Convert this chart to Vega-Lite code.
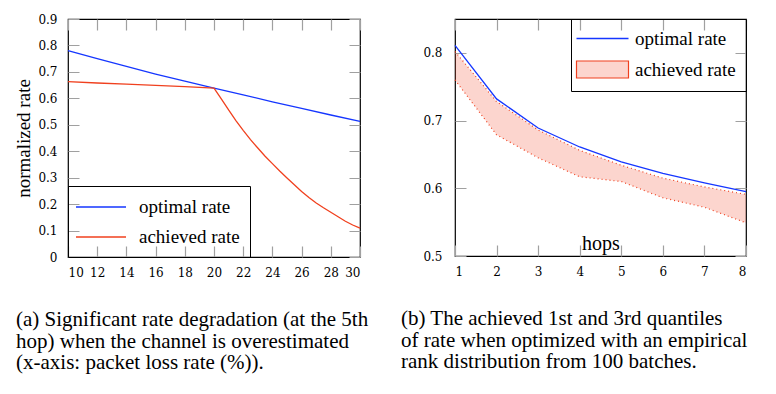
{
  "$schema": "https://vega.github.io/schema/vega-lite/v6.json",
  "background": "white",
  "padding": {"left": 14, "top": 12, "right": 5, "bottom": 5},
  "spacing": 95,
  "bounds": "flush",
  "resolve": {"scale": {"color": "independent"}, "legend": {"color": "independent"}},
  "config": {
    "view": {"stroke": "black", "strokeWidth": 1.2},
    "axis": {
      "domain": false, "ticks": false,
      "labelFont": "'DejaVu Serif', serif", "labelFontSize": 12, "labelColor": "black",
      "gridColor": "#a0a0a0", "gridWidth": 1.2, "gridOpacity": 1,
      "titleFont": "'Liberation Serif', 'Times New Roman', serif", "titleFontWeight": "normal", "titleColor": "black", "titleFontSize": 19
    },
    "legend": {
      "labelFont": "'Liberation Serif', 'Times New Roman', serif", "labelFontSize": 19, "labelColor": "black",
      "strokeColor": "black", "padding": 10, "offset": 0, "title": null,
      "symbolSize": 400, "symbolOffset": 12, "symbolStrokeWidth": 1.3, "labelOffset": 23, "rowPadding": 9, "symbolOpacity": 1
    },
    "title": {
      "font": "'Liberation Serif', 'Times New Roman', serif", "fontSize": 21, "fontWeight": "normal", "color": "black",
      "lineHeight": 21.7, "orient": "bottom", "anchor": "start", "frame": "group"
    }
  },
  "hconcat": [
    {
      "width": 292, "height": 238,
      "title": {
        "text": ["(a) Significant rate degradation (at the 5th", "hop) when the channel is overestimated", "(x-axis: packet loss rate (%))."],
        "dx": -52, "offset": 31
      },
      "data": {"values": [
        {"series": "optimal rate", "loss": 10, "rate": 0.780},
        {"series": "optimal rate", "loss": 12, "rate": 0.750},
        {"series": "optimal rate", "loss": 14, "rate": 0.721},
        {"series": "optimal rate", "loss": 16, "rate": 0.692},
        {"series": "optimal rate", "loss": 18, "rate": 0.665},
        {"series": "optimal rate", "loss": 20, "rate": 0.639},
        {"series": "optimal rate", "loss": 22, "rate": 0.613},
        {"series": "optimal rate", "loss": 24, "rate": 0.587},
        {"series": "optimal rate", "loss": 26, "rate": 0.562},
        {"series": "optimal rate", "loss": 28, "rate": 0.537},
        {"series": "optimal rate", "loss": 30, "rate": 0.513},
        {"series": "achieved rate", "loss": 10, "rate": 0.663},
        {"series": "achieved rate", "loss": 12, "rate": 0.658},
        {"series": "achieved rate", "loss": 14, "rate": 0.654},
        {"series": "achieved rate", "loss": 16, "rate": 0.649},
        {"series": "achieved rate", "loss": 18, "rate": 0.644},
        {"series": "achieved rate", "loss": 20, "rate": 0.639},
        {"series": "achieved rate", "loss": 20.5, "rate": 0.598},
        {"series": "achieved rate", "loss": 21, "rate": 0.556},
        {"series": "achieved rate", "loss": 21.5, "rate": 0.516},
        {"series": "achieved rate", "loss": 22, "rate": 0.479},
        {"series": "achieved rate", "loss": 22.5, "rate": 0.444},
        {"series": "achieved rate", "loss": 23, "rate": 0.412},
        {"series": "achieved rate", "loss": 23.5, "rate": 0.381},
        {"series": "achieved rate", "loss": 24, "rate": 0.353},
        {"series": "achieved rate", "loss": 24.5, "rate": 0.325},
        {"series": "achieved rate", "loss": 25, "rate": 0.299},
        {"series": "achieved rate", "loss": 25.5, "rate": 0.273},
        {"series": "achieved rate", "loss": 26, "rate": 0.248},
        {"series": "achieved rate", "loss": 26.5, "rate": 0.225},
        {"series": "achieved rate", "loss": 27, "rate": 0.204},
        {"series": "achieved rate", "loss": 27.5, "rate": 0.186},
        {"series": "achieved rate", "loss": 28, "rate": 0.169},
        {"series": "achieved rate", "loss": 28.5, "rate": 0.152},
        {"series": "achieved rate", "loss": 29, "rate": 0.135},
        {"series": "achieved rate", "loss": 29.5, "rate": 0.121},
        {"series": "achieved rate", "loss": 30, "rate": 0.109}
      ]},
      "mark": {"type": "line", "strokeWidth": 1.3},
      "encoding": {
        "x": {"field": "loss", "type": "quantitative",
          "scale": {"domain": [10, 30], "nice": false, "zero": false},
          "axis": {"values": [10, 12, 14, 16, 18, 20, 22, 24, 26, 28, 30], "title": null, "grid": true, "gridDash": [11, 216, 11], "labelPadding": 10}},
        "y": {"field": "rate", "type": "quantitative",
          "scale": {"domain": [0, 0.9], "nice": false},
          "axis": {"values": [0, 0.1, 0.2, 0.3, 0.4, 0.5, 0.6, 0.7, 0.8, 0.9], "format": "~g", "title": "normalized rate", "titlePadding": 4, "grid": true, "gridDash": [11, 270, 11], "labelPadding": 11}},
        "color": {"field": "series", "type": "nominal",
          "scale": {"domain": ["optimal rate", "achieved rate"], "range": ["#1536ff", "#f0401e"]},
          "legend": {"orient": "bottom-left", "symbolType": "M-2.5,0H2.5", "labelOffset": 27}}
      }
    },
    {
      "width": 291, "height": 237,
      "title": {
        "text": ["(b) The achieved 1st and 3rd quantiles", "of rate when optimized with an empirical", "rank distribution from 100 batches."],
        "dx": -54, "offset": 31
      },
      "data": {"values": [
        {"hops": 1, "optimal": 0.811, "q3": 0.802, "q1": 0.760},
        {"hops": 2, "optimal": 0.732, "q3": 0.728, "q1": 0.679},
        {"hops": 3, "optimal": 0.689, "q3": 0.686, "q1": 0.645},
        {"hops": 4, "optimal": 0.661, "q3": 0.656, "q1": 0.617},
        {"hops": 5, "optimal": 0.639, "q3": 0.634, "q1": 0.610},
        {"hops": 6, "optimal": 0.622, "q3": 0.615, "q1": 0.586},
        {"hops": 7, "optimal": 0.608, "q3": 0.602, "q1": 0.572},
        {"hops": 8, "optimal": 0.595, "q3": 0.591, "q1": 0.549}
      ]},
      "encoding": {
        "x": {"field": "hops", "type": "quantitative",
          "scale": {"domain": [1, 8], "nice": false, "zero": false},
          "axis": {"values": [1, 2, 3, 4, 5, 6, 7, 8], "title": "hops", "titleFontSize": 20, "titleY": -7, "titleBaseline": "alphabetic", "grid": true, "gridDash": [11, 215, 11], "labelPadding": 10}}
      },
      "layer": [
        {
          "mark": {"type": "area", "opacity": 1, "fillOpacity": 0.22},
          "encoding": {
            "y": {"field": "q1", "type": "quantitative",
              "scale": {"domain": [0.5, 0.85], "nice": false, "zero": false},
              "axis": {"values": [0.5, 0.6, 0.7, 0.8], "format": "~g", "title": null, "grid": true, "gridDash": [11, 269, 11], "labelPadding": 13}},
            "y2": {"field": "q3"},
            "color": {"datum": "achieved rate", "type": "nominal",
              "scale": {"domain": ["optimal rate", "achieved rate"], "range": ["#1536ff", "#f0401e"]},
              "legend": {
                "orient": "top-right",
                "encode": {"symbols": {"update": {
                  "shape": {"signal": "datum.value === 'optimal rate' ? 'M-2.6,0H2.6' : 'M-2.6,-0.85H2.6V0.85H-2.6Z'"},
                  "fillOpacity": {"signal": "datum.value === 'optimal rate' ? 0 : 0.22"},
                  "strokeOpacity": {"value": 1},
                  "strokeWidth": {"signal": "datum.value === 'optimal rate' ? 1.3 : 1.2"},
                  "opacity": {"value": 1}
                }}}
              }}
          }
        },
        {
          "mark": {"type": "line", "color": "#f0401e", "strokeWidth": 1.2, "strokeDash": [1, 3]},
          "encoding": {"y": {"field": "q3", "type": "quantitative"}}
        },
        {
          "mark": {"type": "line", "color": "#f0401e", "strokeWidth": 1.2, "strokeDash": [1, 3]},
          "encoding": {"y": {"field": "q1", "type": "quantitative"}}
        },
        {
          "mark": {"type": "line", "strokeWidth": 1.3},
          "encoding": {
            "y": {"field": "optimal", "type": "quantitative"},
            "color": {"datum": "optimal rate", "type": "nominal"}
          }
        }
      ]
    }
  ]
}
